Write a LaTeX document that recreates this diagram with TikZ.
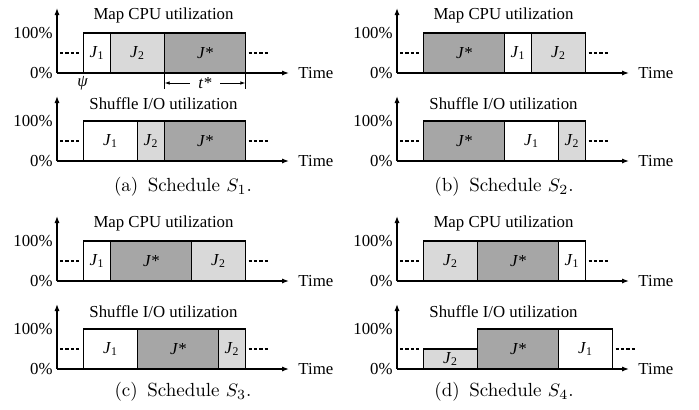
\documentclass[tikz,border=0pt]{standalone}
\usepackage{fontspec}
\newfontfamily\tms{Liberation Serif}
\usetikzlibrary{positioning,arrows.meta}

\tikzset{
  axis/.style={line width=0.7pt, -{Latex[length=3.5pt,width=2.6pt]}},
  idle/.style={line width=0.7pt, dash pattern=on 1.6pt off 1.1pt},
  dim/.style={line width=0.45pt, {Latex[length=2.6pt,width=1.8pt]}-{Latex[length=2.6pt,width=1.8pt]}},
  lbl/.style={font=\tms\fontsize{8.4}{10}\selectfont, inner sep=0pt},
  bar/.style={lbl, draw, line width=0.7pt, outer sep=0pt, anchor=south west, minimum height=20pt},
  len/.style={minimum width=#1*13.5pt},
  jone/.style={bar, fill=white},
  jtwo/.style={bar, fill=gray!30},
  jstar/.style={bar, fill=gray!70},
  caption/.style={font=\fontsize{9.5}{11}\selectfont, inner sep=0pt}
}

% job label with upright index
\newcommand{\jlab}[1]{\textit{J}\textsubscript{#1}}
\newcommand{\jstarlab}{\textit{J*}}

% axes, percent marks, title and idle dashes of one row
\newcommand{\utilrow}[2]{%
  \coordinate (#1o) at (0,0);
  \coordinate (#1y) at (0,65);
  \coordinate (#1x) at (232,0);
  \draw[axis] (#1o) -- (#1y);
  \draw[axis] (#1o) -- (#1x);
  \node[lbl, anchor=east] (#1zero) at (-4,0) {0\%};
  \node[lbl, anchor=east] (#1full) at (-4,40) {100\%};
  \node[lbl, right=4.5pt of #1x] (#1time) {Time};
  \node[lbl] (#1title) at (106.5,57.5) {#2};
  \coordinate (#1l) at (3,20);
  \coordinate (#1r) at (24,20);
  \draw[idle] (#1l) -- (#1r);
}
\newcommand{\idleafter}[1]{%
  \draw[idle] ([xshift=1.5pt]#1.east) -- ([xshift=12pt]#1.east);
}

\begin{document}
\begin{tikzpicture}[x=0.5pt,y=0.5pt]
  \useasboundingbox (0,0) rectangle (699,409);

  % schedule S1
  \begin{scope}[shift={(57,336)}]
    \utilrow{am}{Map CPU utilization}
    \node[jone, len=1] (am1) at (26.5,0) {\jlab1};
    \node[jtwo, len=2] (am2) at (am1.south east) {\jlab2};
    \node[jstar, len=3] (am3) at (am2.south east) {\jstarlab};
    \idleafter{am3}
    \node[lbl] (psi) at (25.5,-10.5) {\itshape ψ};
    \coordinate (ts) at ([yshift=-8pt]am3.south west);
    \coordinate (te) at ([yshift=-8pt]am3.south east);
    \draw[line width=0.45pt] (am3.south west) -- (ts);
    \draw[line width=0.45pt] (am3.south east) -- (te);
    \draw[dim] ([yshift=-5pt]am3.south west) -- node[lbl, fill=white, inner xsep=4pt] (tstar) {\itshape t*} ([yshift=-5pt]am3.south east);
    \begin{scope}[shift={(0,-88)}]
      \utilrow{as}{Shuffle I/O utilization}
      \node[jone, len=2] (as1) at (26.5,0) {\jlab1};
      \node[jtwo, len=1] (as2) at (as1.south east) {\jlab2};
      \node[jstar, len=3] (as3) at (as2.south east) {\jstarlab};
      \idleafter{as3}
    \end{scope}
  \end{scope}
  \node[caption] (capa) at (183,222) {(a)\enskip Schedule $S_1$.};

  % schedule S2
  \begin{scope}[shift={(397,336)}]
    \utilrow{bm}{Map CPU utilization}
    \node[jstar, len=3] (bm1) at (26.5,0) {\jstarlab};
    \node[jone, len=1] (bm2) at (bm1.south east) {\jlab1};
    \node[jtwo, len=2] (bm3) at (bm2.south east) {\jlab2};
    \idleafter{bm3}
    \begin{scope}[shift={(0,-88)}]
      \utilrow{bs}{Shuffle I/O utilization}
      \node[jstar, len=3] (bs1) at (26.5,0) {\jstarlab};
      \node[jone, len=2] (bs2) at (bs1.south east) {\jlab1};
      \node[jtwo, len=1] (bs3) at (bs2.south east) {\jlab2};
      \idleafter{bs3}
    \end{scope}
  \end{scope}
  \node[caption] (capb) at (504,222) {(b)\enskip Schedule $S_2$.};

  % schedule S3
  \begin{scope}[shift={(57,128)}]
    \utilrow{cm}{Map CPU utilization}
    \node[jone, len=1] (cm1) at (26.5,0) {\jlab1};
    \node[jstar, len=3] (cm2) at (cm1.south east) {\jstarlab};
    \node[jtwo, len=2] (cm3) at (cm2.south east) {\jlab2};
    \idleafter{cm3}
    \begin{scope}[shift={(0,-88)}]
      \utilrow{cs}{Shuffle I/O utilization}
      \node[jone, len=2] (cs1) at (26.5,0) {\jlab1};
      \node[jstar, len=3] (cs2) at (cs1.south east) {\jstarlab};
      \node[jtwo, len=1] (cs3) at (cs2.south east) {\jlab2};
      \idleafter{cs3}
    \end{scope}
  \end{scope}
  \node[caption] (capc) at (183,17) {(c)\enskip Schedule $S_3$.};

  % schedule S4
  \begin{scope}[shift={(397,128)}]
    \utilrow{dm}{Map CPU utilization}
    \node[jtwo, len=2] (dm1) at (26.5,0) {\jlab2};
    \node[jstar, len=3] (dm2) at (dm1.south east) {\jstarlab};
    \node[jone, len=1] (dm3) at (dm2.south east) {\jlab1};
    \idleafter{dm3}
    \begin{scope}[shift={(0,-88)}]
      \utilrow{ds}{Shuffle I/O utilization}
      \node[jtwo, len=2, minimum height=10pt] (ds1) at (26.5,0) {\jlab2};
      \node[jstar, len=3] (ds2) at (ds1.south east) {\jstarlab};
      \node[jone, len=2] (ds3) at (ds2.south east) {\jlab1};
      \idleafter{ds3}
    \end{scope}
  \end{scope}
  \node[caption] (capd) at (504,17) {(d)\enskip Schedule $S_4$.};
\end{tikzpicture}
\end{document}
